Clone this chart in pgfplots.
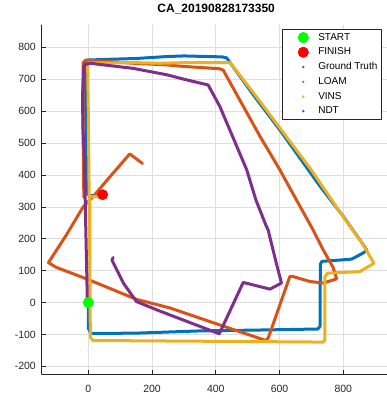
\documentclass[border=0pt]{standalone}
\usepackage{pgfplots}
\pgfplotsset{compat=1.18}
\usepackage{fontspec}
\setmainfont{Liberation Sans}
\definecolor{gt}{RGB}{0,114,189}
\definecolor{loam}{RGB}{217,83,25}
\definecolor{vins}{RGB}{237,177,32}
\definecolor{ndt}{RGB}{126,47,142}
\definecolor{axgray}{RGB}{38,38,38}
\definecolor{gridgray}{RGB}{222,222,222}
\definecolor{startg}{RGB}{0,255,0}
\definecolor{finr}{RGB}{255,0,0}
\begin{document}
\begin{tikzpicture}
\begin{axis}[
  name=ax,
  scale only axis,
  width=349pt, height=349.3pt,
  xmin=-146.2, xmax=948.7,
  ymin=-225, ymax=870,
  axis lines*=left,
  axis line style={axgray, line width=0.6pt},
  tick align=inside,
  major tick length=4pt,
  xtick={0,200,400,600,800},
  xticklabels={0,200,400,600,800},
  ytick={-200,-100,0,100,200,300,400,500,600,700,800},
  yticklabels={-200,-100,0,100,200,300,400,500,600,700,800},
  xmajorgrids=true, ymajorgrids=true,
  major tick style={axgray, line width=0.6pt},
  major grid style={gridgray, line width=0.6pt},
  ticklabel style={font=\fontsize{10.5}{12}\selectfont, text=axgray},
  xticklabel style={anchor=base, inner sep=0pt, yshift=-17.7pt},
  yticklabel style={anchor=east, inner sep=0pt, xshift=-5.7pt},
  title={CA\_20190828173350},
  title style={at={(0.5,1)}, anchor=base, yshift=6.7pt, inner sep=0pt, font=\bfseries\fontsize{12}{14}\selectfont, text=black},
  legend cell align=left,
  legend style={at={(0.6885,0.9885)}, anchor=north west, draw=axgray, line width=0.6pt, fill=white,
    font=\fontsize{10}{12}\selectfont, inner xsep=2pt, inner ysep=2pt, row sep=2.2pt,
    /tikz/every even column/.append style={column sep=7pt}},
  line join=round, line cap=round,
]
\addplot[only marks, mark=*, mark size=5.2pt, startg, mark options={draw=startg, fill=startg},
  legend image code/.code={\path[draw=none,fill=none] (0pt,-6pt) rectangle (32pt,6pt); \fill[startg] (19pt,0pt) circle (5.2pt);}]
  coordinates {(0,0)};
\addlegendentry{START}
\addplot[only marks, mark=*, mark size=5.2pt, finr, mark options={draw=finr, fill=finr},
  legend image code/.code={\path[draw=none,fill=none] (0pt,-6pt) rectangle (32pt,6pt); \fill[finr] (19pt,0pt) circle (5.2pt);}]
  coordinates {(45,338)};
\addlegendentry{FINISH}
% Ground truth
\addplot[gt, line width=3pt,
  legend image code/.code={\path[draw=none,fill=none] (0pt,-6pt) rectangle (32pt,6pt); \fill[gt,draw=none] (19pt,0pt) circle (1.3pt);}]
  coordinates {(0,0) (0,-80) (8,-97) (150,-96) (350,-89) (550,-86) (720,-83) (727,-75) (728,120) (733,129) (800,134) (826,136) (862,155) (874,164) (860,185) (800,270) (726,366) (601,541) (520,648) (434,767) (420,770) (300,773) (245,771) (150,765) (50,762) (-5,760) (-10,750) (-8,600) (-5,450) (-3,340) (5,335) (40,335)};
\addlegendentry{Ground Truth}
% LOAM
\addplot[loam, line width=3pt,
  legend image code/.code={\path[draw=none,fill=none] (0pt,-6pt) rectangle (32pt,6pt); \fill[loam,draw=none] (19pt,0pt) circle (1.3pt);}]
  coordinates {(170,436) (130,466) (60,385) (16,333) (-16,300) (-70,210) (-125,125) (-100,110) (0,72) (151,10) (256,-17) (453,-84) (557,-119) (565,-110) (632,81) (640,82) (695,66) (737,61) (779,74) (768,110) (737,165) (705,228) (640,345) (601,416) (538,522) (423,729) (411,733) (300,740) (245,745) (141,750) (50,756) (-8,760) (-16,752) (-16,700) (-16,500) (-14,330)};
\addlegendentry{LOAM}
% VINS
\addplot[vins, line width=3pt,
  legend image code/.code={\path[draw=none,fill=none] (0pt,-6pt) rectangle (32pt,6pt); \fill[vins,draw=none] (19pt,0pt) circle (1.3pt);}]
  coordinates {(45,332) (5,332) (5,0) (7,-110) (14,-119) (300,-121) (600,-123) (738,-124) (742,-115) (742,80) (750,92) (852,97) (896,123) (860,185) (800,268) (700,415) (610,535) (520,655) (445,752) (300,752) (225,750) (150,752) (0,751) (-2,740) (0,600) (2,400) (4,200) (6,0)};
\addlegendentry{VINS}
% NDT
\addplot[ndt, line width=3pt,
  legend image code/.code={\path[draw=none,fill=none] (0pt,-6pt) rectangle (32pt,6pt); \fill[ndt,draw=none] (19pt,0pt) circle (1.3pt);}]
  coordinates {(-3,0) (-5,100) (-8,238) (-12,447) (-17,550) (-18,650) (-15,720) (-13,745) (5,750) (141,734) (246,714) (300,700) (376,682) (413,614) (497,416) (526,321) (557,243) (564,228) (590,123) (606,61) (570,42) (486,63) (411,-98) (225,-27) (151,3) (110,61) (74,133) (78,141)};
\addlegendentry{NDT}
\end{axis}
\pgfresetboundingbox
\path (ax.south west) ++(-41.7pt,-24.7pt) rectangle ++(386pt,399pt);
\end{tikzpicture}
\end{document}
